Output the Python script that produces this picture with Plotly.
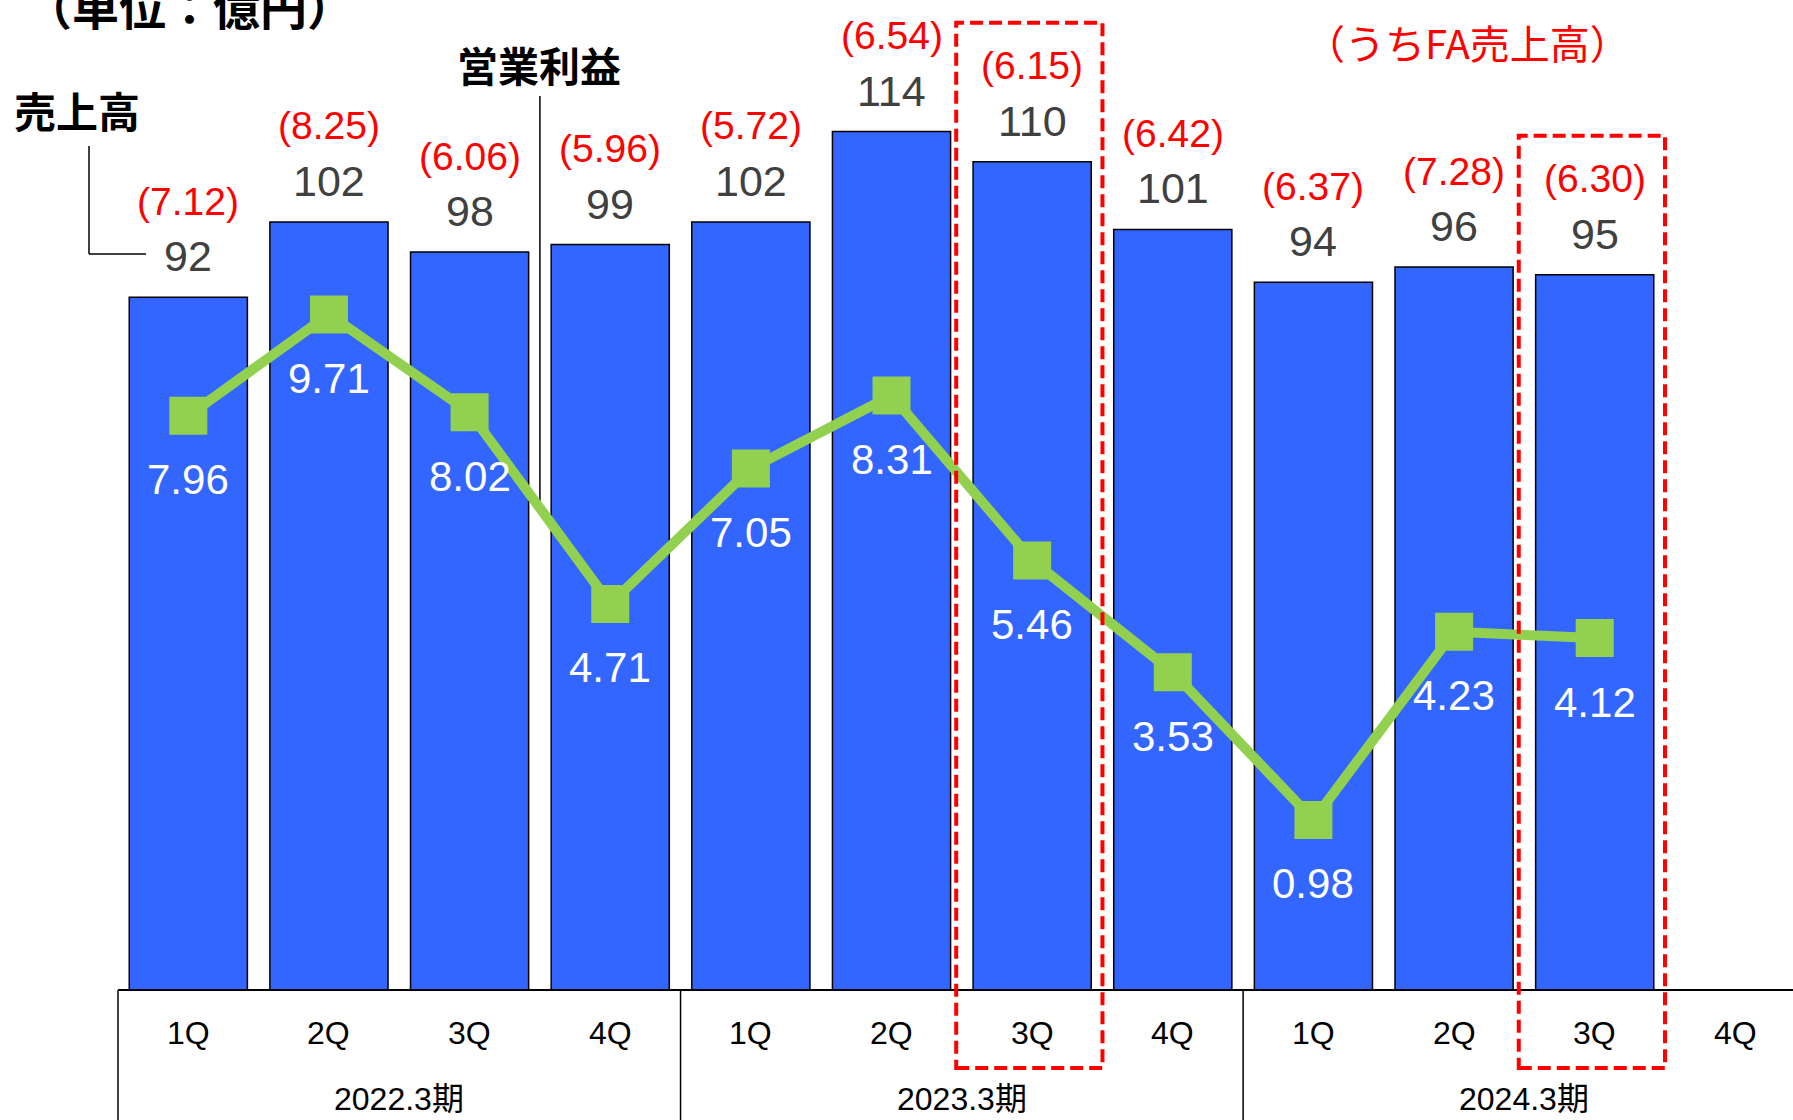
import plotly.graph_objects as go

# ---- data ----
quarters = ["1Q", "2Q", "3Q", "4Q", "1Q", "2Q", "3Q", "4Q", "1Q", "2Q", "3Q", "4Q"]
periods = ["2022.3期", "2023.3期", "2024.3期"]
sales = [92, 102, 98, 99, 102, 114, 110, 101, 94, 96, 95, None]
op_profit = [7.96, 9.71, 8.02, 4.71, 7.05, 8.31, 5.46, 3.53, 0.98, 4.23, 4.12, None]
fa_sales = [7.12, 8.25, 6.06, 5.96, 5.72, 6.54, 6.15, 6.42, 6.37, 7.28, 6.30, None]
highlight = [6, 10]

# ---- layout geometry ----
W, H = 1793, 1120
ML, MB = 118, 130
PH = H - MB  # plot height in px
XR = [-0.5, 11.41]
YR = [0, 131.47]
Y2R = [-1.957, 15.14]
idx = list(range(len(quarters)))

FONT = "Liberation Sans, Noto Sans CJK JP, sans-serif"
JP = "Noto Sans CJK JP, sans-serif"


def xp(v):  # data x -> paper x
    return (v - XR[0]) / (XR[1] - XR[0])


def pxx(px):  # pixel x -> paper x
    return (px - ML) / (W - ML)


def pyy(px):  # pixel y -> paper y
    return (PH - px) / PH


fig = go.Figure()
fig.add_trace(go.Bar(
    x=idx, y=sales, width=0.84,
    marker=dict(color="#3366FF", line=dict(color="black", width=1.5)),
    hoverinfo="skip",
))
fig.add_trace(go.Scatter(
    x=idx, y=op_profit, yaxis="y2", mode="lines+markers",
    line=dict(color="#92D050", width=10),
    marker=dict(symbol="square", size=38, color="#92D050"),
    hoverinfo="skip",
))

C = dict(showarrow=False, xanchor="center", yanchor="middle")
ann = []
for i, (s, f, o) in enumerate(zip(sales, fa_sales, op_profit)):
    if s is None:
        continue
    ann.append(dict(x=i, y=s, xref="x", yref="y", yshift=41, text=f"{s}",
                    font=dict(family=FONT, size=43, color="#404040"), **C))
    ann.append(dict(x=i, y=s, xref="x", yref="y", yshift=96, text=f"({f:.2f})",
                    font=dict(family=FONT, size=39, color="#FF0000"), **C))
    ann.append(dict(x=i, y=o, xref="x", yref="y2", yshift=-64, text=f"{o:.2f}",
                    font=dict(family=FONT, size=42, color="white"), **C))

for i, q in enumerate(quarters):
    ann.append(dict(x=i, y=pyy(1033), xref="x", yref="paper", text=q,
                    font=dict(family=FONT, size=32, color="black"), **C))
for g, p in enumerate(periods):
    ann.append(dict(x=g * 4 + 1.5, y=pyy(1099), xref="x", yref="paper", text=p,
                    font=dict(family=FONT, size=32, color="black"), **C))

ann.append(dict(x=pxx(189), y=pyy(4), xref="paper", yref="paper", text="<b>（単位：億円）</b>",
                font=dict(family=JP, size=47, color="black"), **C))
ann.append(dict(x=pxx(77), y=pyy(109), xref="paper", yref="paper", text="<b>売上高</b>",
                font=dict(family=JP, size=42, color="black"), **C))
ann.append(dict(x=pxx(539), y=pyy(64), xref="paper", yref="paper", text="<b>営業利益</b>",
                font=dict(family=JP, size=41, color="black"), **C))
ann.append(dict(x=pxx(1467), y=pyy(42), xref="paper", yref="paper", text="（うちFA売上高）",
                font=dict(family=JP, size=40, color="#FF0000"), **C))

shapes = []
# axis line
shapes.append(dict(type="line", xref="paper", yref="paper", x0=0, x1=1, y0=0, y1=0,
                   line=dict(color="black", width=2)))
# table verticals
for b in [-0.5, 3.5, 7.5]:
    shapes.append(dict(type="line", xref="paper", yref="paper", x0=xp(b), x1=xp(b),
                       y0=0, y1=pyy(H + 5), line=dict(color="black", width=1.5)))
# leader lines
shapes.append(dict(type="line", xref="paper", yref="paper", x0=pxx(89), x1=pxx(89),
                   y0=pyy(146), y1=pyy(254), line=dict(color="black", width=1.5)))
shapes.append(dict(type="line", xref="paper", yref="paper", x0=pxx(89), x1=pxx(146),
                   y0=pyy(254), y1=pyy(254), line=dict(color="black", width=1.5)))
shapes.append(dict(type="line", xref="paper", yref="paper", x0=xp(2.5), x1=xp(2.5),
                   y0=pyy(96), y1=pyy(503), line=dict(color="black", width=1.5), layer="below"))
# dashed highlight boxes
ppu = PH / (YR[1] - YR[0])
for h in highlight:
    top = (sales[h] * ppu + 139) / PH
    shapes.append(dict(type="rect", xref="paper", yref="paper",
                       x0=xp(h - 0.54), x1=xp(h + 0.50), y0=pyy(1068), y1=top,
                       line=dict(color="#FF0000", width=4, dash="13px,6px")))

fig.update_layout(
    width=W, height=H,
    margin=dict(l=ML, r=0, t=0, b=MB),
    paper_bgcolor="white", plot_bgcolor="white",
    showlegend=False,
    xaxis=dict(range=XR, visible=False, fixedrange=True),
    yaxis=dict(range=YR, visible=False, fixedrange=True),
    yaxis2=dict(range=Y2R, visible=False, overlaying="y", side="right", fixedrange=True),
    annotations=ann, shapes=shapes,
)

fig.write_html("out.html", config={"displayModeBar": False},
               post_script="document.body.style.margin='0';document.body.style.padding='0';"
                           "document.body.style.overflow='hidden';")
